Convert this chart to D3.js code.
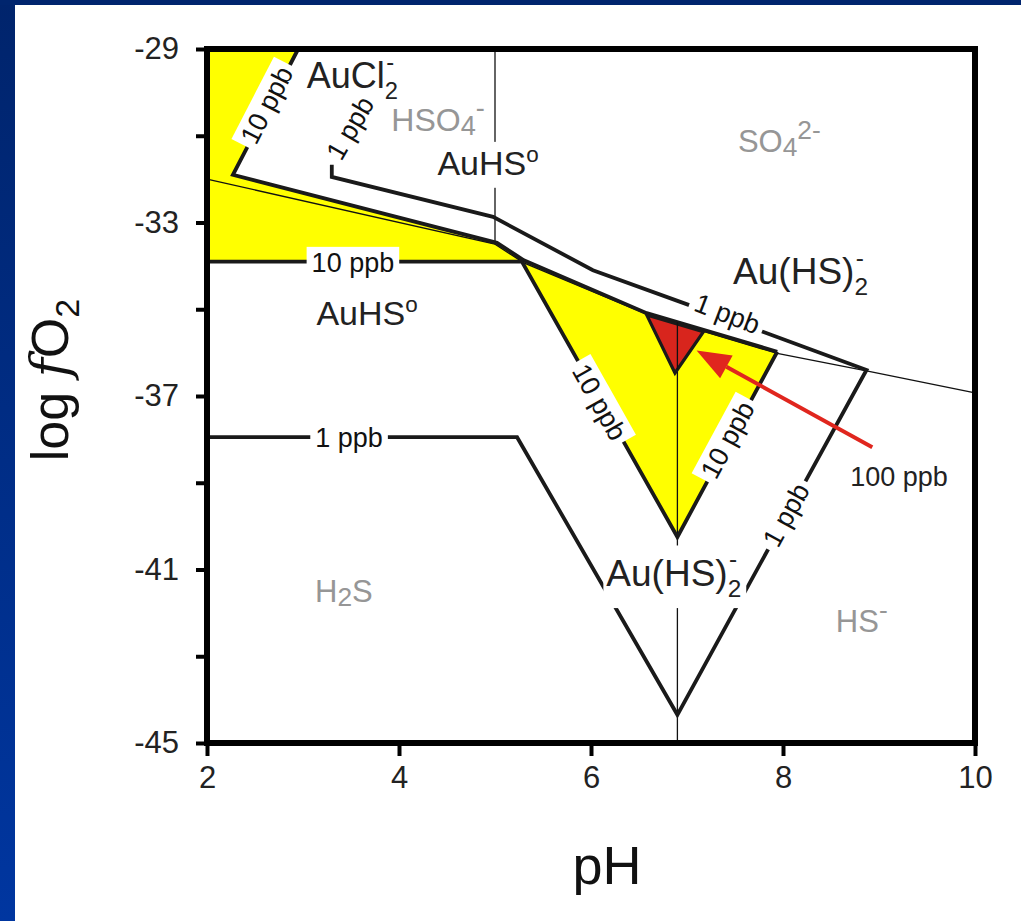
<!DOCTYPE html>
<html>
<head>
<meta charset="utf-8">
<script src="https://cdn.jsdelivr.net/npm/d3@7"></script>
<style>
  body { margin: 0; background: #fff; }
  svg { display: block; font-family: "Liberation Sans", Arial, sans-serif; }
</style>
</head>
<body>
<script>
// axis ticks
const phTicks = [2, 4, 6, 8, 10];
const fo2Ticks = [-29, -31, -33, -35, -37, -39, -41, -43, -45];
const fo2Labels = [-29, -33, -37, -41, -45];

// phase boundaries (pH, log fO2)
const sulfateLine = [[2, -32.0], [5.0, -33.5], [5.3, -33.93], [6.6, -35.13], [7.94, -36.02], [8.87, -36.42], [10, -36.93]];
const hso4Line = [[5.0, -29], [5.0, -33.5]];
const hsLine = [[6.9, -35.3], [6.9, -45]];

// gold solubility contours
const tenPpbUpper = [[2.95, -29], [2.27, -31.9], [5.02, -33.47], [5.3, -33.87], [6.58, -35.09], [7.94, -35.98]];
const tenPpbLower = [[2, -33.9], [5.28, -33.9], [6.9, -40.25], [7.94, -35.98]];
const onePpb = [[3.3, -31.67], [3.3, -31.95], [4.98, -32.87], [6.02, -34.1], [6.93, -34.83], [7.79, -35.52],
                [8.87, -36.4], [6.9, -44.35], [5.23, -37.95], [2, -37.95]];
const hundredPpb = [[6.58, -35.13], [7.17, -35.52], [6.875, -36.47]];

// contour labels: text, pH, log fO2, angle
const contourLabels = [
  ["10 ppb", 2.62, -30.29, -62.7],
  ["1 ppb", 3.49, -30.82, -60],
  ["10 ppb", 3.52, -33.92, 0],
  ["1 ppb", 3.48, -37.95, 0],
  ["10 ppb", 6.09, -37.14, 60.6],
  ["10 ppb", 7.42, -38.01, -61.6],
  ["1 ppb", 7.42, -35.1, 21],
  ["1 ppb", 8.03, -39.74, -61.2]
];

// species labels: parts, pH, log fO2, grey?, white box?, size
const speciesLabels = [
  [[["AuCl"], ["2", "sub"], ["-", "supback"]], 3.04, -29.9, false, false, 36],
  [[["HSO"], ["4", "sub"], ["-", "sup"]], 3.92, -30.88, true, false, 32],
  [[["AuHS"], ["o", "sup"]], 4.40, -31.9, false, true, 34],
  [[["SO"], ["4", "sub"], ["2-", "sup"]], 7.53, -31.37, true, false, 31],
  [[["Au(HS)"], ["2", "sub"], ["-", "supback"]], 7.48, -34.42, false, false, 37],
  [[["AuHS"], ["o", "sup"]], 3.14, -35.36, false, false, 34],
  [[["H"], ["2", "sub"], ["S"]], 3.125, -41.75, true, false, 31],
  [[["Au(HS)"], ["2", "sub"], ["-", "supback"]], 6.16, -41.38, false, true, 37],
  [[["HS"], ["-", "sup"]], 8.55, -42.44, true, false, 31]
];

const arrowFrom = [8.93, -38.18];
const arrowTo = [7.10, -35.95];
const arrowText = "100 ppb";

const W = 1021, H = 921;
const svg = d3.select("body").append("svg").attr("width", W).attr("height", H);

// blue slide frame
const defs = svg.append("defs");
const grad = defs.append("linearGradient").attr("id", "blue").attr("x1", 0).attr("y1", 0).attr("x2", 0).attr("y2", 1);
grad.append("stop").attr("offset", "0%").attr("stop-color", "#00246c");
grad.append("stop").attr("offset", "100%").attr("stop-color", "#0036a0");
svg.append("rect").attr("width", 15).attr("height", H).attr("fill", "url(#blue)");
svg.append("rect").attr("width", W).attr("height", 5).attr("fill", "#00256e");

const x = d3.scaleLinear().domain([2, 10]).range([207, 975]);
const y = d3.scaleLinear().domain([-29, -45]).range([49, 743]);
const line = d3.line().x(d => x(d[0])).y(d => y(d[1]));

// yellow 10 ppb field
const yellow = [[2, -29]].concat(tenPpbUpper, tenPpbLower.slice().reverse());
svg.append("path").attr("d", line(yellow) + "Z").attr("fill", "#ffff00");

// thin boundaries
[sulfateLine, hso4Line, hsLine].forEach(p => {
  svg.append("path").attr("d", line(p)).attr("fill", "none")
    .attr("stroke", "#111").attr("stroke-width", 1.3);
});

// thick contours
[tenPpbUpper, tenPpbLower, onePpb].forEach(p => {
  svg.append("path").attr("d", line(p)).attr("fill", "none")
    .attr("stroke", "#1a1a1a").attr("stroke-width", 3.8).attr("stroke-linejoin", "miter");
});

svg.append("path").attr("d", line(hundredPpb) + "Z")
  .attr("fill", "#d8251d").attr("stroke", "#1a1a1a").attr("stroke-width", 3.2);
svg.append("path").attr("d", line([[6.9, -35.3], [6.9, -36.4]]))
  .attr("stroke", "#111").attr("stroke-width", 1.3);

// frame
svg.append("rect").attr("x", x(2)).attr("y", y(-29))
  .attr("width", x(10) - x(2)).attr("height", y(-45) - y(-29))
  .attr("fill", "none").attr("stroke", "#000").attr("stroke-width", 6);

// axes
const axL = svg.append("g").attr("transform", `translate(${x(2)},0)`)
  .call(d3.axisLeft(y).tickValues(fo2Ticks).tickSize(11).tickPadding(17)
    .tickFormat(d => fo2Labels.includes(d) ? String(d) : ""));
const axB = svg.append("g").attr("transform", `translate(0,${y(-45)})`)
  .call(d3.axisBottom(x).tickValues(phTicks).tickSize(13).tickPadding(10)
    .tickFormat(d => String(d)));
[axL, axB].forEach(a => {
  a.select(".domain").remove();
  a.selectAll(".tick line").attr("stroke", "#000").attr("stroke-width", 4);
  a.selectAll(".tick text").attr("fill", "#222").attr("font-size", 31)
    .attr("font-family", "'Liberation Sans', Arial, sans-serif");
});

// contour labels with white boxes
contourLabels.forEach(([t, ph, fo, ang]) => {
  const g = svg.append("g").attr("transform", `translate(${x(ph)},${y(fo)}) rotate(${ang})`);
  const txt = g.append("text").text(t).attr("font-size", 27).attr("fill", "#111")
    .attr("text-anchor", "middle").attr("dy", "0.35em");
  const bb = txt.node().getBBox();
  g.insert("rect", "text").attr("x", bb.x - 5).attr("y", bb.y - 1)
    .attr("width", bb.width + 10).attr("height", bb.height + 2).attr("fill", "#fff");
});

// species labels, sub/superscripts built from tspans
function formula(parts, px, py, size, grey, boxed) {
  const g = svg.append("g");
  const t = g.append("text").attr("x", px).attr("y", py)
    .attr("font-size", size).attr("fill", grey ? "#969696" : "#222");
  const small = grey ? 0.85 : 0.66;
  let cur = 0;
  parts.forEach(([s, k]) => {
    const ts = t.append("tspan").text(s);
    let off = 0;
    if (k === "sub") off = size * (grey ? 0.13 : 0.3);
    if (k === "sup") off = -size * (grey ? 0.42 : 0.38);
    if (k === "supback") off = -size * 0.5;
    ts.attr("dy", off - cur);
    cur = off;
    if (k) ts.attr("font-size", size * small);
    if (k === "supback") ts.attr("dx", -size * small * 0.5);
  });
  if (boxed) {
    const bb = t.node().getBBox();
    g.insert("rect", "text").attr("x", bb.x - 3).attr("y", bb.y)
      .attr("width", bb.width + 8).attr("height", bb.height + 6).attr("fill", "#fff");
  }
}
speciesLabels.forEach(([parts, ph, fo, grey, boxed, size]) => {
  formula(parts, x(ph), y(fo), size, grey, boxed);
});

// arrow to the 100 ppb field
const ax0 = x(arrowFrom[0]), ay0 = y(arrowFrom[1]), ax1 = x(arrowTo[0]), ay1 = y(arrowTo[1]);
const ang = Math.atan2(ay1 - ay0, ax1 - ax0);
const hl = 34, hw = 13;
const bx = ax1 - hl * Math.cos(ang), by = ay1 - hl * Math.sin(ang);
svg.append("line").attr("x1", ax0).attr("y1", ay0).attr("x2", bx).attr("y2", by)
  .attr("stroke", "#e0261e").attr("stroke-width", 4);
svg.append("path").attr("fill", "#e0261e").attr("d",
  `M${ax1},${ay1}L${bx + hw * Math.sin(ang)},${by - hw * Math.cos(ang)}` +
  `L${bx - hw * Math.sin(ang)},${by + hw * Math.cos(ang)}Z`);
svg.append("text").attr("x", ax0 - 22).attr("y", ay0 + 39).text(arrowText)
  .attr("font-size", 27).attr("fill", "#222");

// axis titles
svg.append("text").attr("x", 607).attr("y", 884)
  .attr("text-anchor", "middle").attr("font-size", 54).attr("fill", "#111").text("pH");
const yt = svg.append("text").attr("transform", "translate(68,380) rotate(-90)")
  .attr("text-anchor", "middle").attr("font-size", 52).attr("fill", "#111");
yt.append("tspan").text("log ");
yt.append("tspan").text("f").attr("font-family", "'DejaVu Serif', serif").attr("font-style", "italic");
yt.append("tspan").text("O");
yt.append("tspan").text("2").attr("font-size", 34).attr("dy", 11);
</script>
</body>
</html>
